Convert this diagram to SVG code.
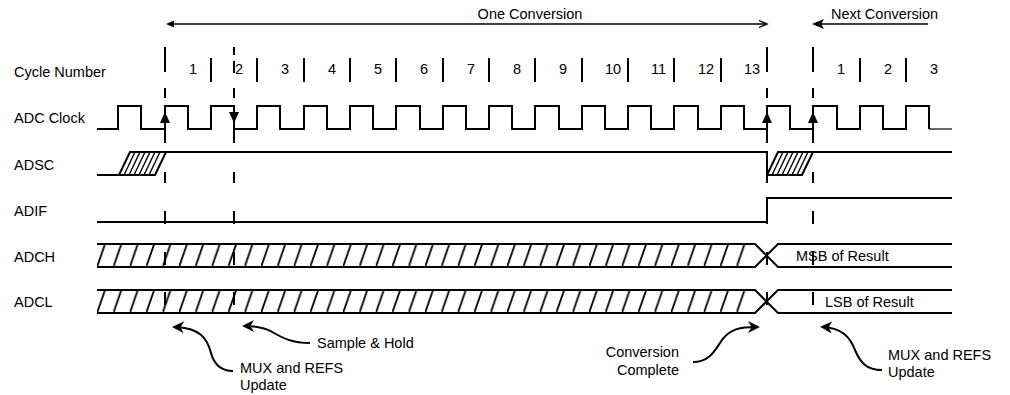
<svg xmlns="http://www.w3.org/2000/svg" width="1010" height="395" viewBox="0 0 1010 395">
<defs>
<style>
text{font-family:"Liberation Sans",Arial,sans-serif;font-size:14.5px;fill:#000}
.sig{fill:none;stroke:#000;stroke-width:2}
.hat{fill:none;stroke:#000;stroke-width:1.4}
.dash{fill:none;stroke:#000;stroke-width:2}
.ann{fill:none;stroke:#000;stroke-width:2;marker-end:url(#ah)}
.tick{fill:none;stroke:#000;stroke-width:2}
.head{fill:#000;stroke:none}
</style>
<pattern id="hatch" patternUnits="userSpaceOnUse" x="97" y="244" width="16.4" height="23"><path d="M0,23L8,0" stroke="#000" stroke-width="1.8" fill="none"/></pattern>
<marker id="ah" markerUnits="userSpaceOnUse" viewBox="0 0 14 14" markerWidth="14" markerHeight="14" refX="10" refY="7" orient="auto"><path d="M13,7L1,1L4.5,7L1,13z" fill="#000"/></marker>
</defs>
<rect width="1010" height="395" fill="#fff"/>

<g id="one-conversion">
<text x="530" y="18.5" text-anchor="middle">One Conversion</text>
<path d="M170,24H767" fill="none" stroke="#000" stroke-width="1.5"/>
<polygon class="head" points="166,24 174,20.5 174,27.5"/>
<polyline points="759,20.5 767,24 759,27.5" fill="none" stroke="#000" stroke-width="1.3"/>
</g>

<g id="next-conversion">
<text x="831" y="18.5">Next Conversion</text>
<path d="M820,24H928" fill="none" stroke="#000" stroke-width="1.5"/>
<polygon class="head" points="812,24 824,19 821,24 824,29"/>
</g>

<g id="cycle-number">
<text x="14" y="77">Cycle Number</text>
<path class="tick" d="M211,58V82M257,58V82M304,58V82M350,58V82M396,58V82M443,58V82M489,58V82M535,58V82M582,58V82M628,58V82M674,58V82M721,58V82M860,58V82M906,58V82"/>
<text x="189" y="74">1</text>
<text x="235" y="74">2</text>
<text x="281" y="74">3</text>
<text x="328" y="74">4</text>
<text x="374" y="74">5</text>
<text x="420" y="74">6</text>
<text x="467" y="74">7</text>
<text x="513" y="74">8</text>
<text x="559" y="74">9</text>
<text x="605" y="74">10</text>
<text x="651" y="74">11</text>
<text x="698" y="74">12</text>
<text x="744" y="74">13</text>
<text x="837" y="74">1</text>
<text x="884" y="74">2</text>
<text x="930" y="74">3</text>
</g>

<g id="adc-clock">
<text x="14" y="123">ADC Clock</text>
<path class="sig" d="M97,129H118V106H141V129H165V106H188V129H211V106H234V129H257V106H280V129H304V106H327V129H350V106H373V129H396V106H420V129H443V106H466V129H489V106H512V129H535V106H559V129H582V106H605V129H628V106H651V129H674V106H698V129H721V106H744V129H767V106H790V129H813V106H837V129H860V106H883V129H906V106H929V129"/>
<path d="M929,129H952" fill="none" stroke="#000" stroke-width="1.2"/>
<polygon class="head" points="165,112 160,123 170,123"/>
<polygon class="head" points="234,123 229,112 239,112"/>
<polygon class="head" points="767,112 762,123 772,123"/>
<polygon class="head" points="813,112 808,123 818,123"/>
</g>

<g id="adsc">
<text x="14" y="170">ADSC</text>
<path class="sig" d="M97,175H155L166,152H767V175H802L813,152H952M119,175L130,152H166M767,175L778,152H813"/>
<path class="hat" d="M124,175l11,-23M129,175l11,-23M134,175l11,-23M139,175l11,-23M144,175l11,-23M149,175l11,-23M772,175l11,-23M777,175l11,-23M782,175l11,-23M787,175l11,-23M792,175l11,-23M797,175l11,-23"/>
</g>

<g id="adif">
<text x="14" y="216">ADIF</text>
<path class="sig" d="M97,222H767V198H952"/>
</g>

<g id="adch">
<text x="14" y="262">ADCH</text>
<rect x="97" y="244" width="655" height="23" fill="url(#hatch)"/>
<path class="sig" d="M97,244H755L778,267H952M97,267H755L778,244H952"/>
<text x="796" y="261">MSB of Result</text>
</g>

<g id="adcl">
<text x="14" y="307">ADCL</text>
<rect x="97" y="290" width="655" height="23" fill="url(#hatch)"/>
<path class="sig" d="M97,290H755L778,313H952M97,313H755L778,290H952"/>
<text x="825" y="307">LSB of Result</text>
</g>

<g id="notes">
<text x="317" y="348">Sample &amp; Hold</text>
<text x="240" y="373">MUX and REFS</text>
<text x="240" y="390">Update</text>
<text x="679" y="357" text-anchor="end">Conversion</text>
<text x="679" y="375" text-anchor="end">Complete</text>
<text x="888" y="360">MUX and REFS</text>
<text x="888" y="377">Update</text>
</g>

<g id="connectors">
<path class="dash" d="M165,47V72M165,88V98M165,129V143M165,172V183M165,211V224M165,252V265M165,292V305"/>
<path class="dash" d="M234,47V55M234,61V73M234,88V98M234,129V143M234,172V183M234,211V224M234,252V265M234,292V305"/>
<path class="dash" d="M767,47V72M767,88V98M767,129V143M767,172V183M767,211V224M767,252V265M767,292V305"/>
<path class="dash" d="M813,47V72M813,88V98M813,129V143M813,172V183M813,211V224M813,252V265M813,292V305"/>
<path class="ann" d="M233,371C220,371 214,364 211,353C207,338 200,328 175,327"/>
<path class="ann" d="M310,343C292,343 283,338 274,333C266,328 258,326 245,326"/>
<path class="ann" d="M693,362C710,362 715,350 722,340C730,329 740,327 757,327"/>
<path class="ann" d="M882,370C866,370 860,362 855,350C850,337 842,328 823,327"/>
</g>
</svg>
